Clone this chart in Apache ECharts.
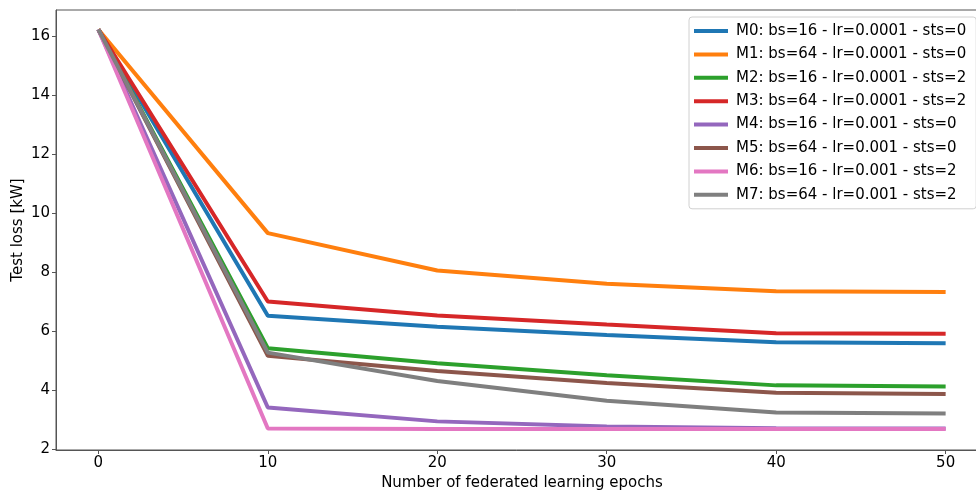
<!DOCTYPE html>
<html><head><meta charset="utf-8">
<script src="https://cdn.jsdelivr.net/npm/echarts@6/dist/echarts.min.js"></script>
<style>html,body{margin:0;padding:0;background:#fff}#c{width:976px;height:491px}</style>
</head><body><div id="c"></div>
<script>
const epochs = [0, 10, 20, 30, 40, 50];
const names = [
  'M0: bs=16 - lr=0.0001 - sts=0',
  'M1: bs=64 - lr=0.0001 - sts=0',
  'M2: bs=16 - lr=0.0001 - sts=2',
  'M3: bs=64 - lr=0.0001 - sts=2',
  'M4: bs=16 - lr=0.001 - sts=0',
  'M5: bs=64 - lr=0.001 - sts=0',
  'M6: bs=16 - lr=0.001 - sts=2',
  'M7: bs=64 - lr=0.001 - sts=2'
];
const m0 = [16.22, 6.52, 6.15, 5.87, 5.62, 5.59];
const m1 = [16.22, 9.32, 8.05, 7.60, 7.35, 7.32];
const m2 = [16.22, 5.42, 4.91, 4.50, 4.16, 4.12];
const m3 = [16.22, 7.00, 6.53, 6.22, 5.93, 5.91];
const m4 = [16.22, 3.41, 2.94, 2.77, 2.71, 2.70];
const m5 = [16.22, 5.16, 4.65, 4.24, 3.91, 3.87];
const m6 = [16.22, 2.70, 2.68, 2.68, 2.68, 2.68];
const m7 = [16.22, 5.27, 4.31, 3.64, 3.24, 3.21];
const values = [m0, m1, m2, m3, m4, m5, m6, m7];
const colors = ['#1f77b4','#ff7f0e','#2ca02c','#d62728','#9467bd','#8c564b','#e377c2','#7f7f7f'];
const xTicks = [0, 10, 20, 30, 40, 50];
const yTicks = [2, 4, 6, 8, 10, 12, 14, 16];

const font = 'DejaVu Sans';
const chart = echarts.init(document.getElementById('c'), null, {renderer: 'canvas'});
chart.setOption({
  animation: false,
  color: colors,
  textStyle: {fontFamily: font},
  grid: {left: 56, right: -12, top: 10, bottom: 41, containLabel: false, outerBoundsMode: 'none',
         show: true, borderColor: '#555', borderWidth: 1, backgroundColor: 'transparent'},
  legend: {
    orient: 'vertical', left: 689, top: 17,
    icon: 'rect', itemWidth: 34, itemHeight: 4, itemGap: 7.4,
    padding: [6, 10, 6, 5],
    borderColor: '#d0d0d0', borderWidth: 1, borderRadius: 3,
    backgroundColor: 'rgba(255,255,255,0.85)',
    textStyle: {fontFamily: font, fontSize: 15, color: '#000', lineHeight: 16, padding: [0,0,0,3]},
    data: names
  },
  xAxis: {
    type: 'value', min: -2.5, max: 52.5,
    name: 'Number of federated learning epochs', nameLocation: 'middle', nameGap: 26,
    nameMoveOverlap: false,
    nameTextStyle: {fontFamily: font, fontSize: 15, color: '#000'},
    axisLine: {show: true, onZero: false, lineStyle: {color: '#555'}},
    axisTick: {show: true, length: 4, lineStyle: {color: '#555'}, customValues: xTicks},
    axisLabel: {fontFamily: font, fontSize: 15, color: '#000', margin: 6, customValues: xTicks},
    splitLine: {show: false}
  },
  yAxis: {
    type: 'value', min: 1.97, max: 16.88,
    name: 'Test loss [kW]', nameLocation: 'middle', nameGap: 30, nameRotate: 90,
    nameMoveOverlap: false,
    nameTextStyle: {fontFamily: font, fontSize: 15, color: '#000'},
    axisLine: {show: true, onZero: false, lineStyle: {color: '#555'}},
    axisTick: {show: true, length: 4, lineStyle: {color: '#555'}, customValues: yTicks},
    axisLabel: {fontFamily: font, fontSize: 15, color: '#000', margin: 6, customValues: yTicks},
    splitLine: {show: false}
  },
  series: values.map((v, i) => ({
    name: names[i], type: 'line',
    data: epochs.map((x, j) => [x, v[j]]),
    showSymbol: false, symbol: 'none',
    lineStyle: {width: 4, color: colors[i]},
    itemStyle: {color: colors[i]}
  }))
});
</script></body></html>
